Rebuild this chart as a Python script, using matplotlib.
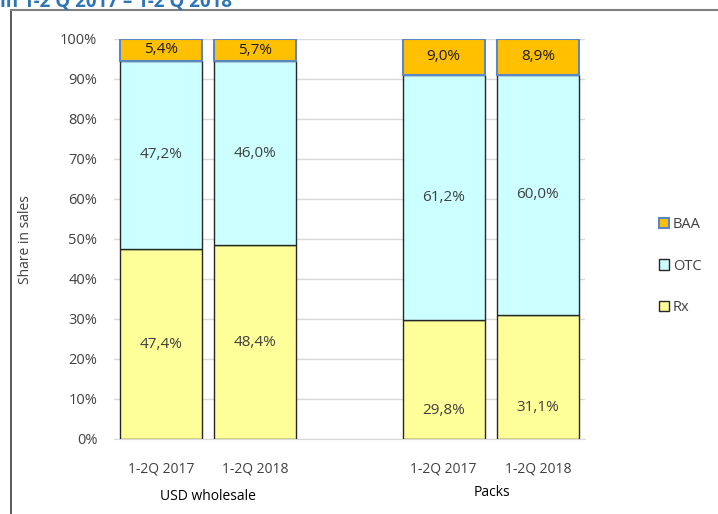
import matplotlib.pyplot as plt
from matplotlib.lines import Line2D

# data
periods = ["1-2Q 2017", "1-2Q 2018", "1-2Q 2017", "1-2Q 2018"]
groups = ["USD wholesale", "Packs"]
rx = [47.4, 48.4, 29.8, 31.1]
otc = [47.2, 46.0, 61.2, 60.0]
baa = [5.4, 5.7, 9.0, 8.9]
rx_label_pos = [0.5, 0.5, 0.24, 0.25]  # label spot inside the Rx block

plt.rcParams['font.family'] = ['Open Sans', 'DejaVu Sans']
txt = "#404040"
fs = 10.5

fig = plt.figure(figsize=(7.18, 5.14), dpi=100)
ax = fig.add_axes([114/718, 1-439/514, 471/718, 400/514])

xs = [0, 1, 3, 4]
w = 0.87
b_rx = ax.bar(xs, rx, w, color="#FFFF99", edgecolor="#262626", lw=1, zorder=3)
b_otc = ax.bar(xs, otc, w, bottom=rx, color="#CCFFFF", edgecolor="#262626", lw=1, zorder=3)
bot3 = [a + b for a, b in zip(rx, otc)]
b_baa = ax.bar(xs, baa, w, bottom=bot3, color="#FFC000", edgecolor="#5B87C5", lw=1.5, zorder=4)

for i, x in enumerate(xs):
    ax.text(x, rx[i]*rx_label_pos[i], f"{rx[i]:.1f}%".replace(".", ","), ha="center", va="center", fontsize=11, color=txt, zorder=5)
    ax.text(x, rx[i] + otc[i]/2, f"{otc[i]:.1f}%".replace(".", ","), ha="center", va="center", fontsize=11, color=txt, zorder=5)
    ax.text(x, bot3[i] + baa[i]/2, f"{baa[i]:.1f}%".replace(".", ","), ha="center", va="center", fontsize=11, color="#1a1a1a", zorder=5)

ax.set_xlim(-0.5, 4.5)
ax.set_ylim(0, 100)
ax.set_yticks(range(0, 101, 10))
ax.set_yticklabels([f"{v}%" for v in range(0, 101, 10)], fontsize=fs, color=txt)
ax.set_xticks(xs)
ax.set_xticklabels(periods, fontsize=10, color=txt)
ax.tick_params(axis='y', length=0, pad=12)
ax.tick_params(axis='x', length=0, pad=16)
ax.grid(axis='y', color="#D9D9D9", lw=1, zorder=0)
for s in ["top", "right", "left"]:
    ax.spines[s].set_visible(False)
ax.spines["bottom"].set_color("#D9D9D9")
fig.text(26/718, 1-240/514, "Share in sales", rotation=90, ha="center", va="center", fontsize=10, color=txt)

fig.text(208/718, 1-497/514, groups[0], ha="center", va="center", fontsize=10, color="black")
fig.text(492/718, 1-492/514, groups[1], ha="center", va="center", fontsize=10, color="black")

leg = fig.legend([b_baa, b_otc, b_rx], ["BAA", "OTC", "Rx"], loc="center left",
                 bbox_to_anchor=(646/718, 1-266/514), frameon=False, fontsize=10.5,
                 labelspacing=1.8, handlelength=0.7, handleheight=0.7, handletextpad=0.25)
for t in leg.get_texts():
    t.set_color(txt)

# frame and cut title
fig.add_artist(Line2D([11/718, 11/718], [0, 1-10/514], color="#404040", lw=1.2))
fig.add_artist(Line2D([11/718, 1], [1-10/514, 1-10/514], color="#808080", lw=1.5))
fig.text(0, 1-7/514, "in 1-2 Q 2017 – 1-2 Q 2018", fontsize=13.5, fontweight="bold",
         color="#2E75B6", ha="left", va="baseline")

fig.savefig("out.png", dpi=100)
